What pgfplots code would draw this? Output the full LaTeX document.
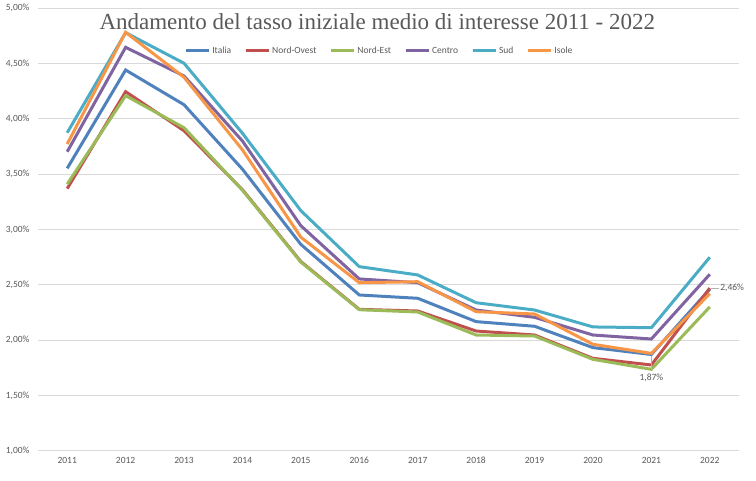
\documentclass[border=0pt]{standalone}
\usepackage{fontspec}
\setmainfont{Carlito}
\newfontfamily\titlefont{Liberation Serif}
\usepackage{pgfplots}
\pgfplotsset{compat=1.18}

\definecolor{cItalia}{HTML}{4F81BD}
\definecolor{cNordOvest}{HTML}{C0504D}
\definecolor{cNordEst}{HTML}{9BBB59}
\definecolor{cCentro}{HTML}{8064A2}
\definecolor{cSud}{HTML}{4BACC6}
\definecolor{cIsole}{HTML}{F79646}
\definecolor{txtgray}{HTML}{595959}
\definecolor{gridgray}{HTML}{D9D9D9}

\begin{document}
\begin{tikzpicture}
\begin{axis}[%
width=701bp,
height=442.4bp,
scale only axis,
clip=false,
xmin=2010.5,
xmax=2022.5,
ymin=1,
ymax=5,
xtick={2011,2012,2013,2014,2015,2016,2017,2018,2019,2020,2021,2022},
xticklabels={2011,2012,2013,2014,2015,2016,2017,2018,2019,2020,2021,2022},
ytick={1,1.5,2,2.5,3,3.5,4,4.5,5},
yticklabels={{1,00\%},{1,50\%},{2,00\%},{2,50\%},{3,00\%},{3,50\%},{4,00\%},{4,50\%},{5,00\%}},
ymajorgrids,
major grid style={color=gridgray, line width=1bp},
axis line style={draw=none},
major tick length=0pt,
tick label style={font=\fontsize{9.5bp}{11bp}\selectfont, text=txtgray},
yticklabel style={xshift=-5bp},
xticklabel style={yshift=-3bp},
legend style={draw=none, fill=none, at={(0.487,0.9035)}, anchor=center,
  font=\fontsize{9.5bp}{11bp}\selectfont, text=txtgray,
  /tikz/every even column/.append style={column sep=11bp},
  inner sep=0pt},
legend columns=6,
legend image code/.code={\draw[#1, line width=3bp] (0bp,0bp) -- (23bp,0bp);},
every axis plot/.append style={line width=3bp},
]
\addplot [color=cItalia] coordinates {(2011,3.553) (2012,4.442) (2013,4.128) (2014,3.545) (2015,2.865) (2016,2.408) (2017,2.378) (2018,2.167) (2019,2.125) (2020,1.932) (2021,1.870) (2022,2.460)};
\addlegendentry{Italia}
\addplot [color=cNordOvest] coordinates {(2011,3.370) (2012,4.246) (2013,3.893) (2014,3.360) (2015,2.710) (2016,2.278) (2017,2.263) (2018,2.082) (2019,2.046) (2020,1.835) (2021,1.775) (2022,2.470)};
\addlegendentry{Nord-Ovest}
\addplot [color=cNordEst] coordinates {(2011,3.410) (2012,4.210) (2013,3.920) (2014,3.355) (2015,2.705) (2016,2.275) (2017,2.254) (2018,2.046) (2019,2.037) (2020,1.826) (2021,1.736) (2022,2.300)};
\addlegendentry{Nord-Est}
\addplot [color=cCentro] coordinates {(2011,3.703) (2012,4.647) (2013,4.388) (2014,3.800) (2015,3.034) (2016,2.553) (2017,2.519) (2018,2.272) (2019,2.206) (2020,2.046) (2021,2.010) (2022,2.595)};
\addlegendentry{Centro}
\addplot [color=cSud] coordinates {(2011,3.875) (2012,4.780) (2013,4.503) (2014,3.870) (2015,3.170) (2016,2.664) (2017,2.589) (2018,2.338) (2019,2.272) (2020,2.119) (2021,2.112) (2022,2.749)};
\addlegendentry{Sud}
\addplot [color=cIsole] coordinates {(2011,3.773) (2012,4.783) (2013,4.376) (2014,3.720) (2015,2.930) (2016,2.519) (2017,2.528) (2018,2.257) (2019,2.236) (2020,1.962) (2021,1.880) (2022,2.420)};
\addlegendentry{Isole}

% titolo ed etichette dati
\node[anchor=base, text=txtgray, font=\titlefont\fontsize{23bp}{26bp}\selectfont]
  at (rel axis cs:0.484,0.951) {Andamento del tasso iniziale medio di interesse 2011 - 2022};
\draw[gray!60, line width=0.6bp] (axis cs:2021,1.86) -- (axis cs:2021,1.73);
\node[text=txtgray, font=\fontsize{9.5bp}{11bp}\selectfont] at (axis cs:2021,1.657) {1,87\%};
\draw[gray!60, line width=0.6bp] (axis cs:2022.02,2.47) -- (axis cs:2022.16,2.47);
\node[anchor=west, inner sep=1bp, text=txtgray, font=\fontsize{9.5bp}{11bp}\selectfont] at (axis cs:2022.16,2.47) {2,46\%};
\end{axis}
\path ([xshift=-38bp,yshift=-30.3bp]current axis.south west) rectangle ([xshift=17bp,yshift=8.3bp]current axis.north east);
\end{tikzpicture}
\end{document}
